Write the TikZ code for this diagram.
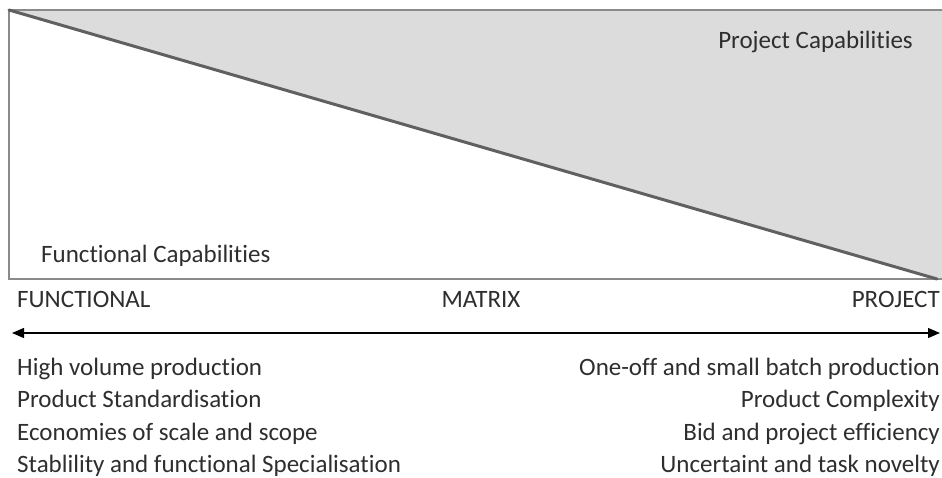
\documentclass[tikz,border=0pt]{standalone}
\usepackage{fontspec}
\setmainfont{Carlito}[Ligatures=NoCommon]
\usetikzlibrary{arrows.meta}
\definecolor{txt}{HTML}{2E2E2E}
\definecolor{frame}{HTML}{8A8A8A}
\definecolor{diag}{HTML}{606060}
\definecolor{capfill}{HTML}{DCDCDC}
\begin{document}
\begin{tikzpicture}[x=1pt,y=-1pt,
  lbl/.style={font=\fontsize{25}{30}\selectfont, text=txt, inner sep=0pt},
  leftitem/.style={lbl, anchor=base west},
  rightitem/.style={lbl, anchor=base east}]
\useasboundingbox (0,0) rectangle (942,478);
% corners of the capability panel
\coordinate (tl) at (9,10);
\coordinate (tr) at (945,10);
\coordinate (br) at (945,279);
\coordinate (bl) at (9,279);
\coordinate (tip) at (937,279);
% shaded project share
\fill[capfill] (tl) -- (tr) -- (br) -- (tip) -- cycle;
\draw[frame, line width=2pt] (tl) -- (tr) -- (br) -- (bl) -- cycle;
\draw[diag, line width=3pt, line cap=round] (tl) -- (tip);
\node[rightitem] (pc) at (913,49) {Project Capabilities};
\node[leftitem] (fc) at (41,262) {Functional Capabilities};
% scale
\node[leftitem] (fun) at (17,307) {FUNCTIONAL};
\node[lbl, anchor=base] (mat) at (481,307) {MATRIX};
\node[rightitem] (pro) at (940,307) {PROJECT};
\coordinate (al) at (12,333);
\coordinate (ar) at (940,333);
\draw[black, line width=1.2pt, {Triangle[length=12pt,width=10pt]}-{Triangle[length=12pt,width=10pt]}] (al) -- (ar);
% characteristics
\node[leftitem] (l1) at (17,375) {High volume production};
\node[leftitem] (l2) at (17,407.5) {Product Standardisation};
\node[leftitem] (l3) at (17,440) {Economies of scale and scope};
\node[leftitem] (l4) at (17,472.5) {Stablility and functional Specialisation};
\node[rightitem] (r1) at (940,375) {One-off and small batch production};
\node[rightitem] (r2) at (940,407.5) {Product Complexity};
\node[rightitem] (r3) at (940,440) {Bid and project efficiency};
\node[rightitem] (r4) at (940,472.5) {Uncertaint and task novelty};
\end{tikzpicture}
\end{document}
